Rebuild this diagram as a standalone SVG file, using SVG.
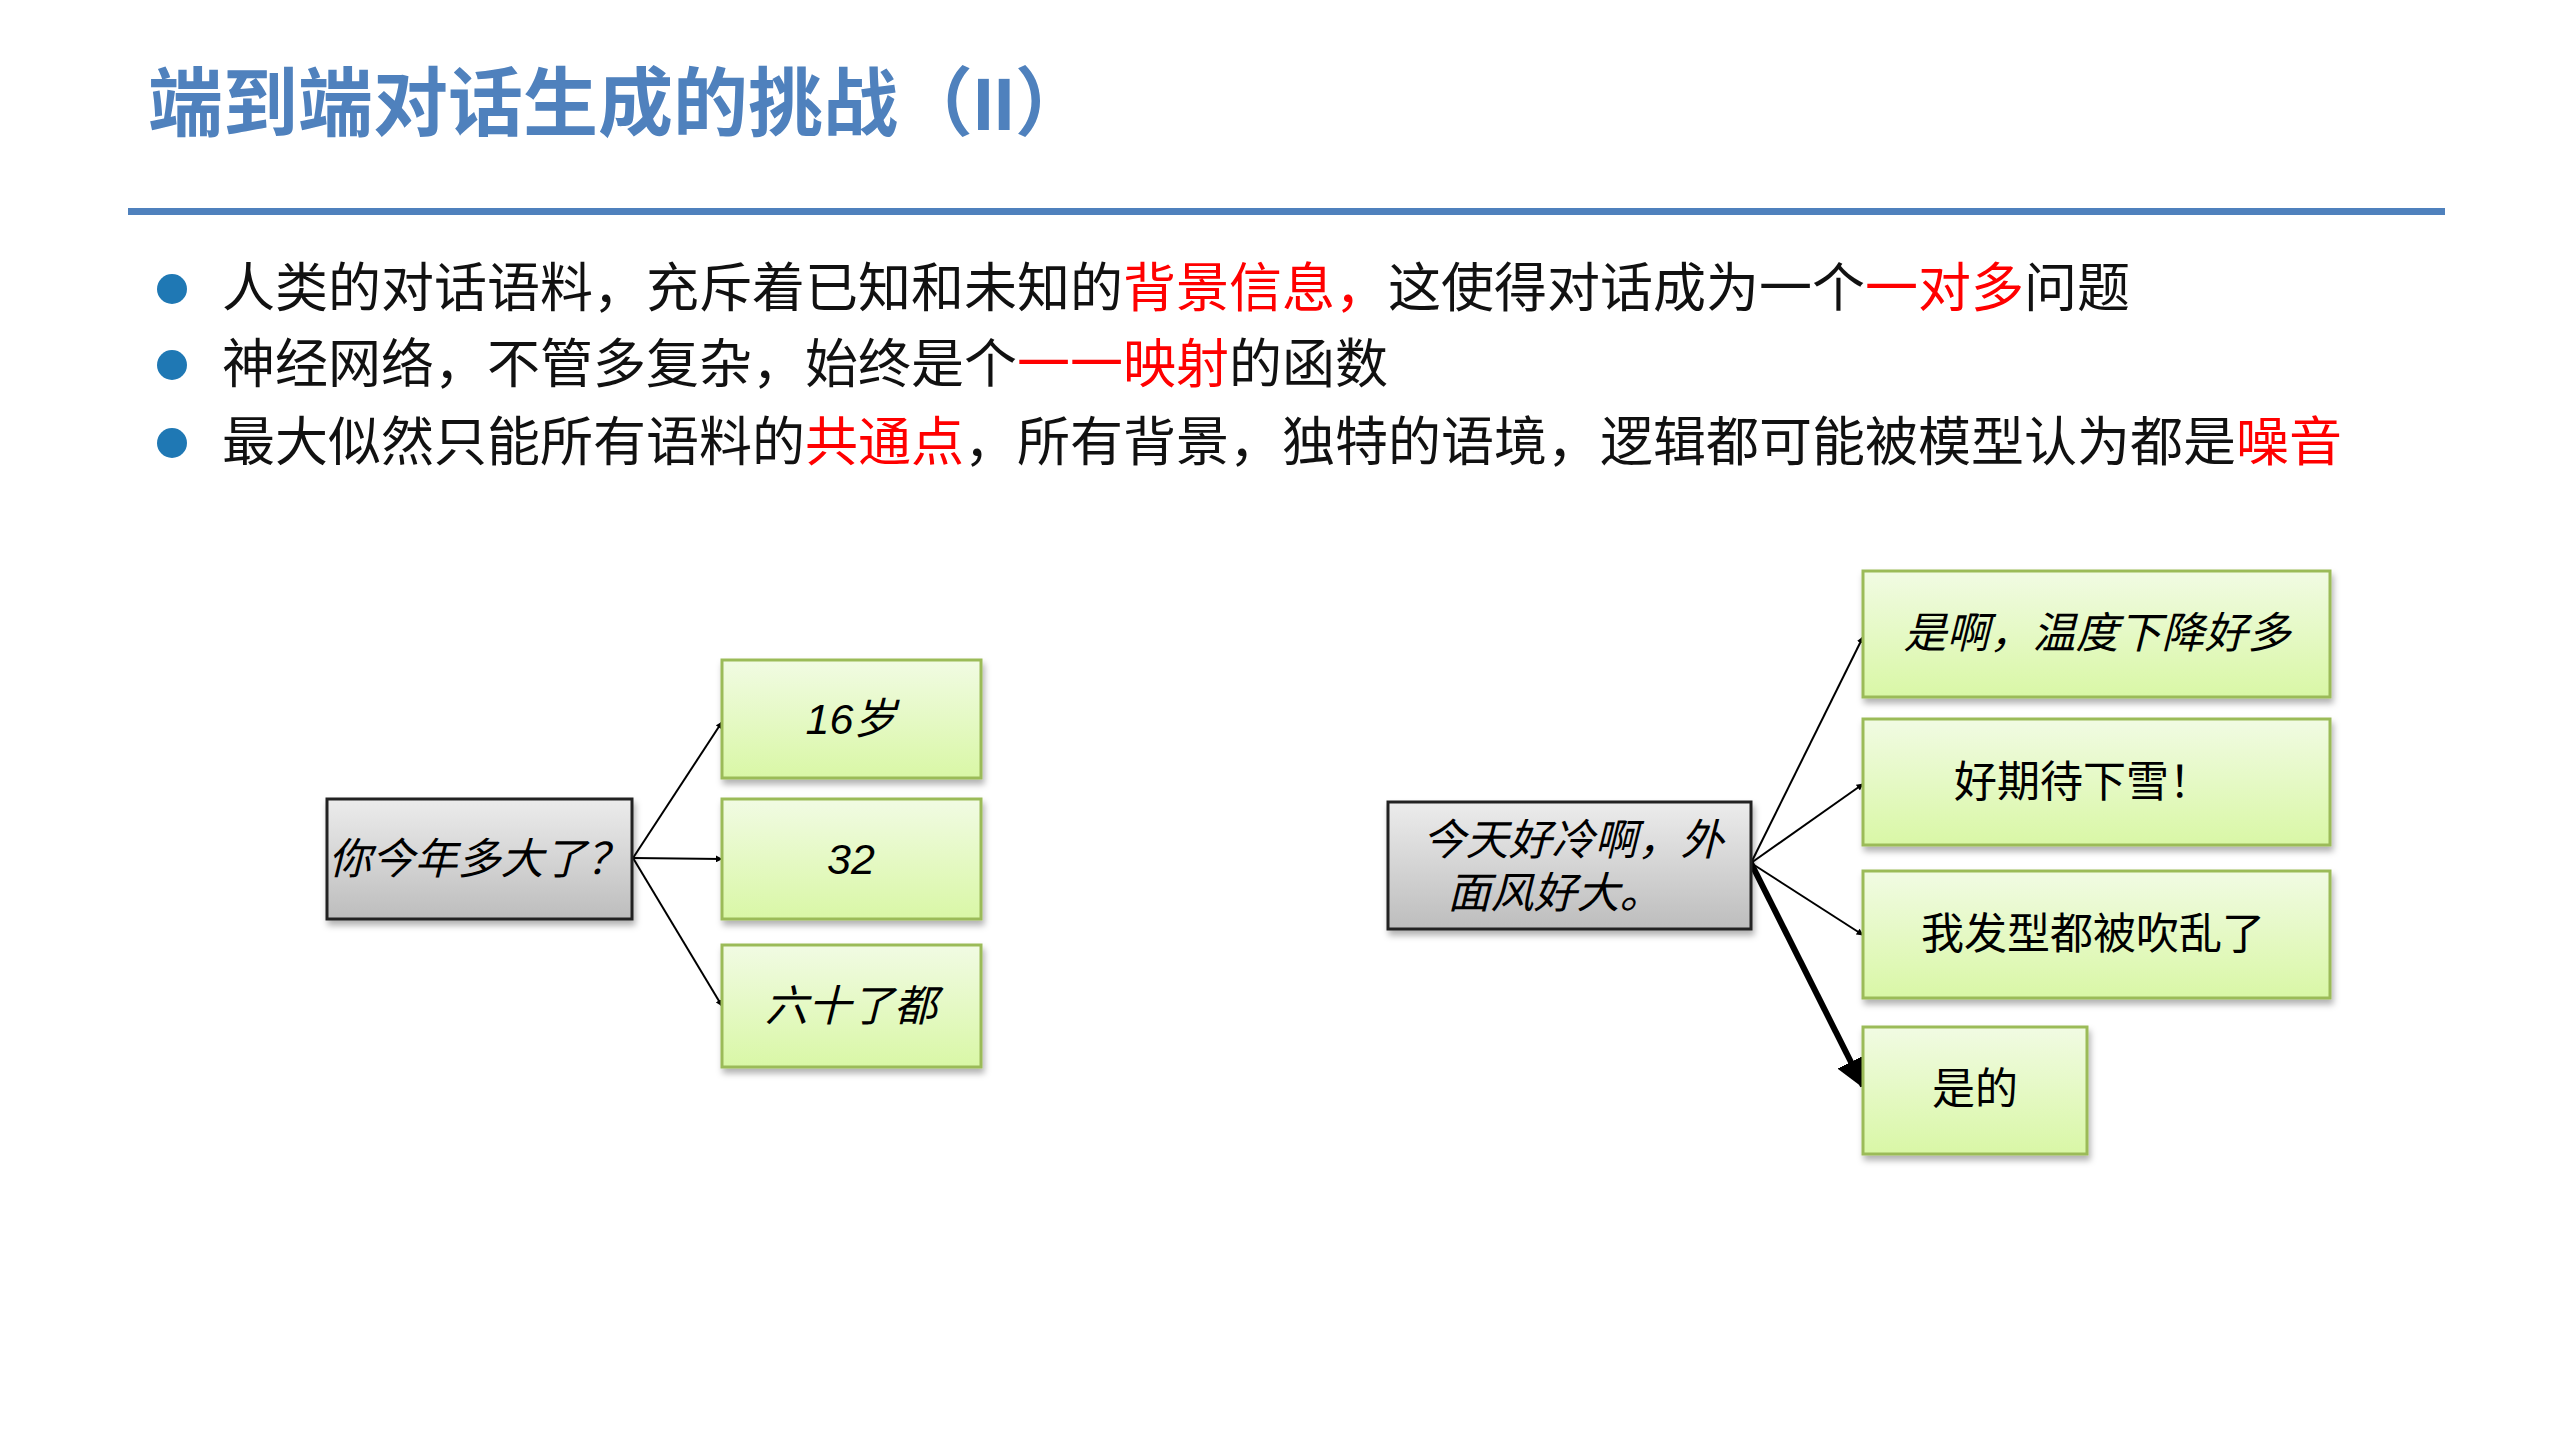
<svg xmlns="http://www.w3.org/2000/svg" width="2559" height="1439" viewBox="0 0 2559 1439">
<defs>
<linearGradient id="gg" x1="0" y1="0" x2="0" y2="1"><stop offset="0" stop-color="#f1fbe3"/><stop offset="1" stop-color="#d9f7a6"/></linearGradient>
<linearGradient id="gr" x1="0" y1="0" x2="0" y2="1"><stop offset="0" stop-color="#ececec"/><stop offset="1" stop-color="#bdbdbd"/></linearGradient>
<filter id="sh" x="-10%" y="-10%" width="130%" height="130%"><feDropShadow dx="2" dy="5" stdDeviation="3" flood-color="#000" flood-opacity="0.3"/></filter>
<marker id="ar" viewBox="0 0 10 10" refX="9" refY="5" markerWidth="7" markerHeight="7" markerUnits="userSpaceOnUse" orient="auto"><path d="M0,0L10,5L0,10z" fill="#000"/></marker>
<marker id="ar2" viewBox="0 0 10 10" refX="9" refY="5" markerWidth="5" markerHeight="5" orient="auto"><path d="M0,0L10,5L0,10z" fill="#000"/></marker>
<style>
.t{font-family:"Liberation Sans","Noto Sans CJK SC",sans-serif}
.g{fill:url(#gg);stroke:#9bbb59;stroke-width:3;filter:url(#sh)}
.q{fill:url(#gr);stroke:#222;stroke-width:3;filter:url(#sh)}
.b{font-size:53px;fill:#111}
.r{fill:#ff0000}
.n{font-size:43px;fill:#000;text-anchor:middle}
.i{font-style:italic}
.c{stroke:#000;stroke-width:2;fill:none;marker-end:url(#ar)}
</style>
</defs>
<rect width="2559" height="1439" fill="#fff"/>
<text class="t" x="148" y="130" font-size="75" font-weight="bold" fill="#4f81bd">端到端对话生成的挑战（II）</text>
<rect x="128" y="208" width="2317" height="7" fill="#4f81bd"/>
<g fill="#1f78b4"><circle cx="172" cy="289" r="15"/><circle cx="172" cy="365" r="15"/><circle cx="172" cy="443" r="15"/></g>
<text class="t b" x="222" y="307">人类的对话语料，充斥着已知和未知的<tspan class="r">背景信息，</tspan>这使得对话成为一个<tspan class="r">一对多</tspan>问题</text>
<text class="t b" x="222" y="383">神经网络，不管多复杂，始终是个<tspan class="r">一一映射</tspan>的函数</text>
<text class="t b" x="222" y="461">最大似然只能所有语料的<tspan class="r">共通点</tspan>，所有背景，独特的语境，逻辑都可能被模型认为都是<tspan class="r">噪音</tspan></text>
<g id="connectors">
<path class="c" d="M633,858L722,722"/>
<path class="c" d="M633,858L722,859"/>
<path class="c" d="M633,858L722,1006"/>
<path class="c" d="M1751,863L1863,637"/>
<path class="c" d="M1751,863L1863,784"/>
<path class="c" d="M1751,863L1863,935"/>
<path d="M1751,863L1863,1086" stroke="#000" stroke-width="6" fill="none" marker-end="url(#ar2)"/>
</g>
<g id="q1"><rect class="q" x="327" y="799" width="305" height="120"/><text class="t n i" x="479" y="874">你今年多大了？</text></g>
<g id="a1"><rect class="g" x="722" y="660" width="259" height="118"/><text class="t n i" x="851" y="734">16岁</text></g>
<g id="a2"><rect class="g" x="722" y="799" width="259" height="120"/><text class="t n i" x="851" y="874">32</text></g>
<g id="a3"><rect class="g" x="722" y="945" width="259" height="122"/><text class="t n i" x="851" y="1021">六十了都</text></g>
<g id="q2"><rect class="q" x="1388" y="802" width="363" height="127"/><text class="t n i" x="1573" y="855">今天好冷啊，外</text><text class="t n i" x="1555" y="908">面风好大。</text></g>
<g id="b1"><rect class="g" x="1863" y="571" width="467" height="126"/><text class="t n i" x="2097" y="648">是啊，温度下降好多</text></g>
<g id="b2"><rect class="g" x="1863" y="719" width="467" height="126"/><text class="t n" x="2083" y="797">好期待下雪！</text></g>
<g id="b3"><rect class="g" x="1863" y="871" width="467" height="127"/><text class="t n" x="2093" y="949">我发型都被吹乱了</text></g>
<g id="b4"><rect class="g" x="1863" y="1027" width="224" height="127"/><text class="t n" x="1975" y="1104">是的</text></g>
</svg>
